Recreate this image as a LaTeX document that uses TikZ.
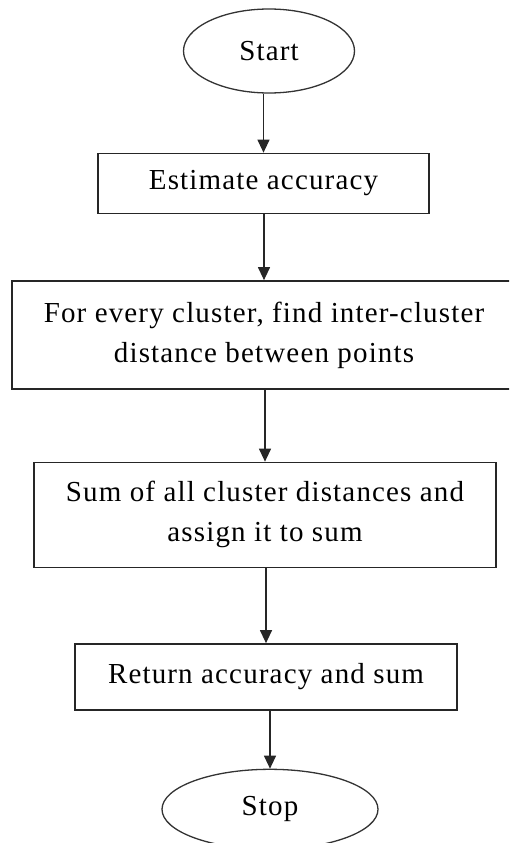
\documentclass[tikz,border=0pt]{standalone}
\usepackage{fontspec}
\setmainfont{Liberation Serif}
\newfontfamily\chartfont[LetterSpace=4]{Liberation Serif}
\usetikzlibrary{arrows.meta,positioning,shapes.geometric}

\begin{document}
\begin{tikzpicture}[
    node distance=60pt,
    every node/.style={font=\chartfont\fontsize{29}{40}\selectfont},
    term/.style={
        ellipse, draw=black!80, line width=1.3pt,
        inner sep=0pt, minimum width=#1
    },
    proc/.style={
        rectangle, draw=black!85, line width=1.5pt,
        inner sep=0pt, align=center, minimum width=#1
    },
    flow/.style={-{Triangle[length=13pt,width=12pt]}, line width=1.2pt, black!85},
]
\useasboundingbox (0,0) rectangle (509pt,-843pt);
\clip (0,0) rectangle (509pt,-843pt);

% Terminals and steps
\node[term=171pt, minimum height=84pt] (start) at (269pt,-51pt) {Start};
\node[proc=331pt, minimum height=60pt, below=59pt of start, xshift=-5.5pt] (estimate) {Estimate accuracy};
\node[proc=504pt, minimum height=108pt, below=66pt of estimate, xshift=0.5pt] (interdist) {For every cluster, find inter-cluster\\distance between points};
\node[proc=462pt, minimum height=105pt, below=72pt of interdist, xshift=1pt] (sumdist) {Sum of all cluster distances and\\assign it to sum};
\node[proc=382pt, minimum height=66pt, below=75pt of sumdist, xshift=1pt] (result) {Return accuracy and sum};
\node[term=216pt, minimum height=80pt, below=58pt of result, xshift=4pt] (stop) {Stop};

% Arrows
\draw[flow] (start.south -| estimate.north) -- (estimate.north);
\draw[flow] (estimate.south -| interdist.north) -- (interdist.north);
\draw[flow] (interdist.south -| sumdist.north) -- (sumdist.north);
\draw[flow] (sumdist.south -| result.north) -- (result.north);
\draw[flow] (result.south -| stop.north) -- (stop.north);
\end{tikzpicture}
\end{document}
